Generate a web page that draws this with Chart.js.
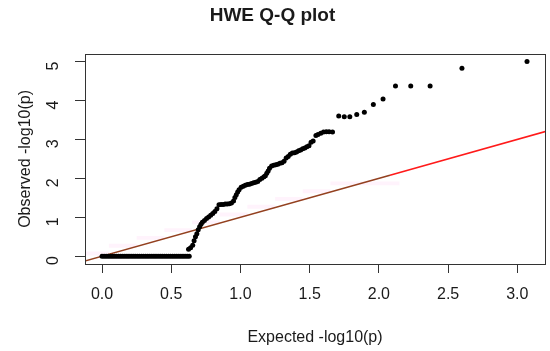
<!DOCTYPE html>
<html>
<head>
<meta charset="utf-8">
<script src="https://cdn.jsdelivr.net/npm/chart.js@4.4.1/dist/chart.umd.min.js"></script>
<style>
  html, body { margin: 0; padding: 0; background: #fff; }
  #wrap { width: 550px; height: 351px; }
</style>
</head>
<body>
<div id="wrap"><canvas id="qq"></canvas></div>
<script>
// Q-Q plot data
const expectedX = [
    0.000, 0.015, 0.030, 0.045, 0.060, 0.075, 0.090, 0.105, 0.120, 0.135,
    0.150, 0.165, 0.180, 0.195, 0.210, 0.225, 0.240, 0.255, 0.270, 0.285,
    0.300, 0.315, 0.330, 0.345, 0.360, 0.375, 0.390, 0.405, 0.420, 0.435,
    0.450, 0.465, 0.480, 0.495, 0.510, 0.525, 0.540, 0.555, 0.570, 0.585,
    0.600, 0.615, 0.630,
    0.625, 0.640, 0.655, 0.665, 0.675, 0.685, 0.695, 0.705, 0.715, 0.725,
    0.740, 0.755, 0.770, 0.785, 0.800, 0.815, 0.830, 0.845, 0.860, 0.875,
    0.890, 0.905, 0.920, 0.935, 0.950, 0.960, 0.970, 0.980, 0.990, 1.005,
    1.020, 1.035, 1.050, 1.065, 1.080, 1.095, 1.110, 1.125, 1.140, 1.155,
    1.170, 1.180, 1.190, 1.200, 1.210, 1.225, 1.240, 1.255, 1.270, 1.285,
    1.300, 1.315, 1.330, 1.345, 1.360, 1.375, 1.390, 1.405, 1.420, 1.435,
    1.450, 1.465, 1.480, 1.495, 1.510, 1.525, 1.545, 1.560, 1.580, 1.600,
    1.620, 1.640, 1.665, 1.710, 1.750, 1.790, 1.840, 1.895, 1.960, 2.030,
    2.120, 2.230, 2.370, 2.600, 3.070
];
const observedY = [
    0, 0, 0, 0, 0, 0, 0, 0, 0, 0,
    0, 0, 0, 0, 0, 0, 0, 0, 0, 0,
    0, 0, 0, 0, 0, 0, 0, 0, 0, 0,
    0, 0, 0, 0, 0, 0, 0, 0, 0, 0,
    0, 0, 0,
    0.18, 0.22, 0.28, 0.40, 0.50, 0.58, 0.68, 0.76, 0.82, 0.87,
    0.92, 0.97, 1.01, 1.05, 1.10, 1.15, 1.22, 1.32, 1.33, 1.33,
    1.34, 1.34, 1.35, 1.37, 1.42, 1.51, 1.58, 1.65, 1.71, 1.77,
    1.80, 1.82, 1.84, 1.85, 1.87, 1.89, 1.90, 1.92, 1.97, 2.00,
    2.04, 2.07, 2.13, 2.19, 2.26, 2.32, 2.34, 2.35, 2.36, 2.39,
    2.40, 2.44, 2.52, 2.56, 2.62, 2.65, 2.66, 2.68, 2.71, 2.73,
    2.76, 2.78, 2.81, 2.84, 2.93, 2.96, 3.10, 3.13, 3.16, 3.19,
    3.20, 3.20, 3.19, 3.60, 3.58, 3.58, 3.64, 3.70, 3.90, 4.04,
    4.37, 4.37, 4.37, 4.83, 5.00
];

// y = x reference line, brown part then red part
const brownLineX = [-0.3, 2.08];
const redLineX = [2.08, 3.4];

// faint pink band along the lower part of the line
const bandX  = [-0.30, 0.05, 0.25, 0.45, 0.65, 0.85, 1.05, 1.25, 1.45, 1.65, 1.85, 2.15];
const bandHi = [-0.10, 0.12, 0.32, 0.52, 0.72, 0.92, 1.12, 1.32, 1.52, 1.72, 1.92, 1.92];
const bandLo = [-0.30, 0.02, 0.22, 0.42, 0.62, 0.82, 1.02, 1.22, 1.42, 1.62, 1.82, 1.82];

const xTicks = [0, 0.5, 1.0, 1.5, 2.0, 2.5, 3.0];
const yTicks = [0, 1, 2, 3, 4, 5];

const xMin = -0.123, xMax = 3.2;
const yMin = -0.2, yMax = 5.2;

const textColor = '#1a1a1a';
const fontFamily = '"Liberation Sans", Arial, Helvetica, sans-serif';

const toPoints = (xs, ys) => xs.map((x, i) => ({ x: x, y: ys[i] }));

// rahmen um den plotbereich
const boxPlugin = {
    id: 'box',
    afterDatasetsDraw(chart) {
        const a = chart.chartArea;
        const ctx = chart.ctx;
        ctx.save();
        ctx.strokeStyle = '#333';
        ctx.lineWidth = 1;
        ctx.strokeRect(Math.round(a.left) + 0.5, Math.round(a.top) + 0.5,
            Math.round(a.right - a.left), Math.round(a.bottom - a.top));
        ctx.restore();
    }
};

const ctx = document.getElementById('qq');

new Chart(ctx, {
    type: 'scatter',
    data: {
        datasets: [{
            label: 'observed',
            data: toPoints(expectedX, observedY),
            backgroundColor: '#000',
            borderWidth: 0,
            pointRadius: 2.5,
            showLine: false
        }, {
            label: 'line brown',
            data: toPoints(brownLineX, brownLineX),
            showLine: true,
            borderColor: '#93401f',
            borderWidth: 1.6,
            pointRadius: 0
        }, {
            label: 'line red',
            data: toPoints(redLineX, redLineX),
            showLine: true,
            borderColor: '#ff1a1a',
            borderWidth: 1.6,
            pointRadius: 0
        }, {
            label: 'band hi',
            data: toPoints(bandX, bandHi),
            showLine: true,
            stepped: 'after',
            borderWidth: 0,
            borderColor: 'rgba(0,0,0,0)',
            backgroundColor: 'rgba(255,200,240,0.22)',
            pointRadius: 0,
            fill: '+1'
        }, {
            label: 'band lo',
            data: toPoints(bandX, bandLo),
            showLine: true,
            stepped: 'after',
            borderWidth: 0,
            borderColor: 'rgba(0,0,0,0)',
            pointRadius: 0,
            fill: false
        }]
    },
    options: {
        responsive: true,
        maintainAspectRatio: false,
        animation: false,
        layout: { padding: { right: 5, left: 0, bottom: 0, top: 0 } },
        plugins: {
            legend: { display: false },
            tooltip: { enabled: false },
            title: {
                display: true,
                text: 'HWE Q-Q plot',
                color: textColor,
                font: { family: fontFamily, size: 19, weight: 'bold', lineHeight: 1.2 },
                padding: { top: 4, bottom: 27 }
            }
        },
        scales: {
            x: {
                type: 'linear',
                min: xMin,
                max: xMax,
                afterBuildTicks: s => { s.ticks = xTicks.map(v => ({ value: v })); },
                afterFit: s => { s.height = 87; },
                border: { display: false },
                grid: { drawOnChartArea: false, drawTicks: true, tickLength: 9, color: '#333' },
                ticks: {
                    color: textColor,
                    padding: 12,
                    maxRotation: 0,
                    font: { family: fontFamily, size: 16 },
                    callback: v => v.toFixed(1)
                },
                title: {
                    display: true,
                    text: 'Expected -log10(p)',
                    color: textColor,
                    font: { family: fontFamily, size: 16 },
                    padding: { top: 0, bottom: 4 }
                }
            },
            y: {
                type: 'linear',
                min: yMin,
                max: yMax,
                afterBuildTicks: s => { s.ticks = yTicks.map(v => ({ value: v })); },
                afterFit: s => { s.width = 85; },
                border: { display: false },
                grid: { drawOnChartArea: false, drawTicks: true, tickLength: 10, color: '#333' },
                ticks: {
                    color: textColor,
                    padding: 21,
                    minRotation: 90,
                    maxRotation: 90,
                    font: { family: fontFamily, size: 16 },
                    callback: v => String(v)
                },
                title: {
                    display: true,
                    text: 'Observed -log10(p)',
                    color: textColor,
                    font: { family: fontFamily, size: 16 },
                    padding: { top: 16, bottom: 0 }
                }
            }
        }
    },
    plugins: [boxPlugin]
});
</script>
</body>
</html>
